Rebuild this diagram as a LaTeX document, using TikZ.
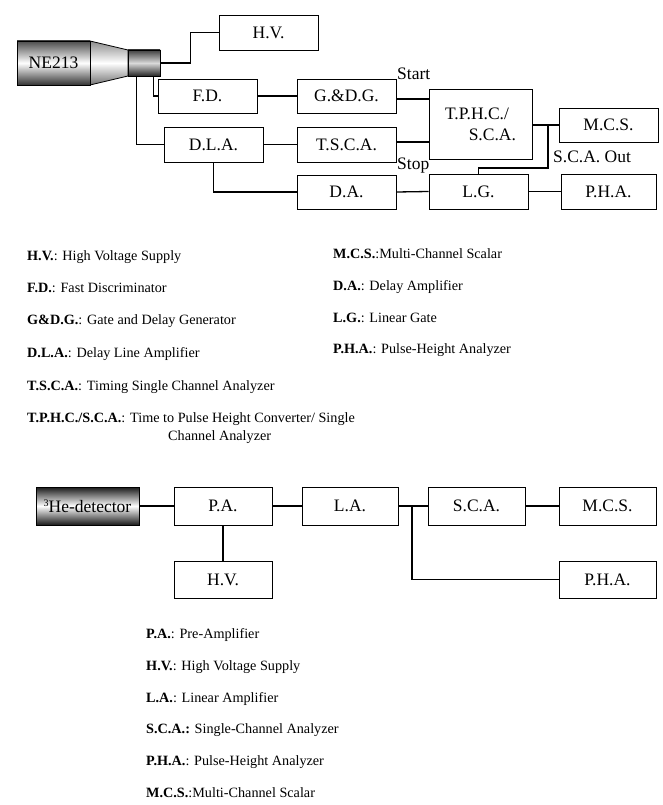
\documentclass[tikz,border=0pt]{standalone}
\usepackage{fontspec}
\setmainfont{Liberation Serif}
\begin{document}
\begin{tikzpicture}[x=1pt,y=-1pt,
  box/.style={draw, line width=0.9pt, minimum width=99pt, minimum height=35pt, inner sep=0pt, font=\fontsize{17.5}{21}\selectfont},
  wire/.style={line width=1.3pt},
  lbl/.style={font=\fontsize{17.5}{21}\selectfont, anchor=base west, inner sep=0pt},
  leg/.style={font=\fontsize{14.2}{17}\selectfont, anchor=base west, inner sep=0pt},
  dshade/.style={top color=black!70, bottom color=black!80, middle color=white},
  lshade/.style={top color=black!45, bottom color=black!55, middle color=white}]
\useasboundingbox (0,0) rectangle (663,805);

% ---------- top diagram ----------
\shade[lshade, draw, line width=0.8pt] (90,41) -- (128,50) -- (128,76) -- (90,85) -- cycle;
\node[box, dshade, minimum width=73pt, minimum height=44pt] (ne) at (53.5,63) {NE213};
\node[box, top color=black!75, bottom color=black!85, middle color=black!15, minimum width=32pt, minimum height=26pt] (blk) at (144,63) {};

\node[box] (hv) at (268.5,32.5) {H.V.};
\node[box, minimum height=34pt] (fd) at (207.5,96) {F.D.};
\node[box, minimum height=34pt] (gdg) at (346.5,96) {G.\&D.G.};
\node[box] (dla) at (213.5,144.5) {D.L.A.};
\node[box] (tsca) at (346.5,144.5) {T.S.C.A.};
\node[box, minimum height=34pt] (da) at (346.5,192) {D.A.};
\node[box, minimum width=103pt, minimum height=70pt, align=right] (tphc) at (480.5,124) {T.P.H.C./\hspace*{7pt}\\S.C.A.};
\node[box, minimum height=34pt] (mcs) at (608.5,125) {M.C.S.};
\node[box] (lg) at (478.5,191.5) {L.G.};
\node[box, minimum width=95pt] (pha) at (608.5,191.5) {P.H.A.};

\draw[wire] (blk.east) -- ++(30,0) |- (hv.west);
\draw[wire] ([xshift=-7pt]blk.south east) |- (fd.west);
\draw[wire] ([xshift=9pt]blk.south west) |- (dla.west);
\draw[wire] (dla.south) |- (da.west);
\draw[wire] (fd.east) -- (gdg.west);
\draw[wire] (dla.east) -- (tsca.west);
\draw[wire] (gdg.east |- 0,99) -- (tphc.west |- 0,99);
\draw[wire] (tsca.east |- 0,142) -- (tphc.west |- 0,142);
\draw[wire] (tphc.east |- mcs.west) -- (mcs.west);
\coordinate (j1) at (548,125);
\draw[wire] (j1) -- (548,168) -| (lg.north);
\draw[wire] (da.east) -- (lg.west);
\draw[wire] (lg.east) -- (pha.west);

\node[lbl] (start) at (397,80) {Start};
\node[lbl] (stop) at (397,170) {Stop};
\node[lbl] (scaout) at (553,163) {S.C.A. Out};

% ---------- top legend ----------
\node[leg] (l1) at (27,260) {\textbf{H.V.}: High Voltage Supply};
\node[leg] (l2) at (27,292) {\textbf{F.D.}: Fast Discriminator};
\node[leg] (l3) at (27,324) {\textbf{G\&D.G.}: Gate and Delay Generator};
\node[leg] (l4) at (27,357) {\textbf{D.L.A.}: Delay Line Amplifier};
\node[leg] (l5) at (27,390) {\textbf{T.S.C.A.}: Timing Single Channel Analyzer};
\node[leg] (l6) at (27,422) {\textbf{T.P.H.C./S.C.A.}: Time to Pulse Height Converter/ Single};
\node[leg] (l7) at (168,440) {Channel Analyzer};
\node[leg] (r1) at (333,258) {\textbf{M.C.S.}:Multi-Channel Scalar};
\node[leg] (r2) at (333,290) {\textbf{D.A.}: Delay Amplifier};
\node[leg] (r3) at (333,322) {\textbf{L.G.}: Linear Gate};
\node[leg] (r4) at (333,353) {\textbf{P.H.A.}: Pulse-Height Analyzer};

% ---------- bottom diagram ----------
\node[box, top color=black!90, bottom color=black!90, middle color=white, minimum width=103pt, minimum height=38pt] (he) at (87.5,506) {\raisebox{0.7ex}{\fontsize{10}{10}\selectfont 3}He-detector};
\node[box, minimum width=98pt, minimum height=38pt] (pa) at (223,506) {P.A.};
\node[box, minimum width=96pt, minimum height=38pt] (la) at (350,506) {L.A.};
\node[box, minimum width=97pt, minimum height=38pt] (sca) at (476.5,506) {S.C.A.};
\node[box, minimum width=97pt, minimum height=38pt] (mcs2) at (607.5,506) {M.C.S.};
\node[box, minimum width=98pt, minimum height=37pt] (hv2) at (223,579.5) {H.V.};
\node[box, minimum width=97pt, minimum height=37pt] (pha2) at (607.5,579.5) {P.H.A.};

\draw[wire] (he.east) -- (pa.west);
\draw[wire] (pa.east) -- (la.west);
\draw[wire] (la.east) -- (sca.west);
\draw[wire] (sca.east) -- (mcs2.west);
\draw[wire] (pa.south) -- (hv2.north);
\coordinate (j2) at (412,506);
\draw[wire] (j2) |- (pha2.west);

% ---------- bottom legend ----------
\node[leg] (b1) at (146,638) {\textbf{P.A.}: Pre-Amplifier};
\node[leg] (b2) at (146,670) {\textbf{H.V.}: High Voltage Supply};
\node[leg] (b3) at (146,702) {\textbf{L.A.}: Linear Amplifier};
\node[leg] (b4) at (146,733) {\textbf{S.C.A.:} Single-Channel Analyzer};
\node[leg] (b5) at (146,765) {\textbf{P.H.A.}: Pulse-Height Analyzer};
\node[leg] (b6) at (146,797) {\textbf{M.C.S.}:Multi-Channel Scalar};
\end{tikzpicture}
\end{document}
